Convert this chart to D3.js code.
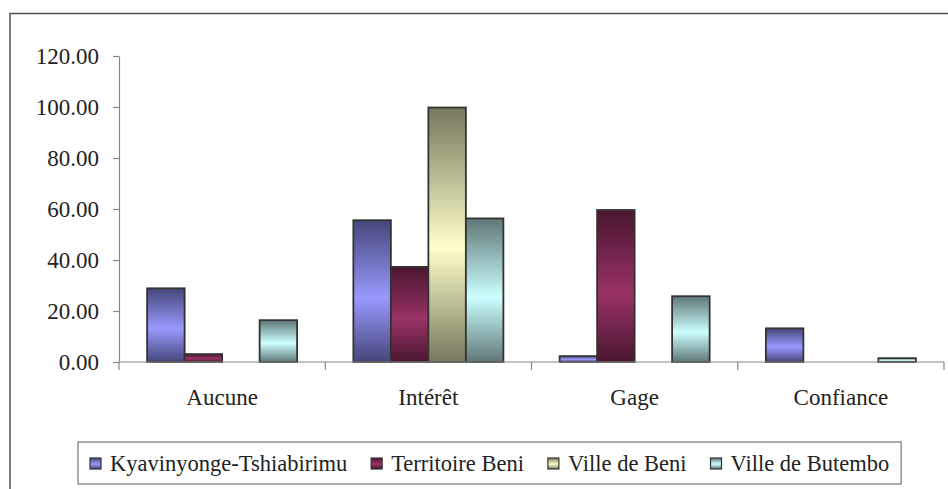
<!DOCTYPE html>
<html>
<head>
<meta charset="utf-8">
<script src="https://cdn.jsdelivr.net/npm/d3@7/dist/d3.min.js"></script>
<style>
  body { margin: 0; background: #fff; }
  svg text { font-family: "Liberation Serif", "Times New Roman", serif; fill: #222; }
</style>
</head>
<body>
<div id="chart"></div>
<script>
// categories on the x axis
var categories = ["Aucune", "Intérêt", "Gage", "Confiance"];

// series (legend order)
var seriesNames = ["Kyavinyonge-Tshiabirimu", "Territoire Beni", "Ville de Beni", "Ville de Butembo"];

// values per series, one per category
var kyavinyonge = [28.9, 55.6, 2.3, 13.2];
var territoireBeni = [3.1, 37.3, 59.6, 0];
var villeDeBeni = [0, 99.8, 0, 0];
var villeDeButembo = [16.4, 56.3, 25.8, 1.5];

var yTicks = [0, 20, 40, 60, 80, 100, 120];

// light / dark colour of each series gradient
var lightColors = ["#9999ff", "#993366", "#ffffcc", "#ccffff"];
var darkColors = ["#46467a", "#4a1630", "#77775c", "#5f7777"];

var values = [kyavinyonge, territoireBeni, villeDeBeni, villeDeButembo];

var W = 948, H = 489;
var margin = {top: 56, left: 119, right: 4, bottom: 127};
var serif = "'Liberation Serif', 'Times New Roman', serif";

var svg = d3.select("#chart").append("svg")
    .attr("width", W)
    .attr("height", H);

// gradients, dark at top and bottom, light in the middle
var defs = svg.append("defs");
seriesNames.forEach(function (s, i) {
  var g = defs.append("linearGradient")
      .attr("id", "grad" + i)
      .attr("x1", 0).attr("y1", 0).attr("x2", 0).attr("y2", 1);
  g.append("stop").attr("offset", "0%").attr("stop-color", darkColors[i]);
  g.append("stop").attr("offset", "55%").attr("stop-color", lightColors[i]);
  g.append("stop").attr("offset", "100%").attr("stop-color", darkColors[i]);
});

// outer chart border (runs off the right and bottom edges)
svg.append("rect")
    .attr("x", 10).attr("y", 13.5)
    .attr("width", 980).attr("height", 520)
    .attr("fill", "none")
    .attr("stroke", "#555")
    .attr("stroke-width", 1.5);

var x0 = d3.scaleBand()
    .domain(categories)
    .range([margin.left, W - margin.right]);

var x1 = d3.scaleBand()
    .domain(seriesNames)
    .range([0, x0.bandwidth()])
    .paddingOuter(0.75);

var y = d3.scaleLinear()
    .domain([0, 120])
    .range([H - margin.bottom, margin.top]);

// y axis
var yAxis = d3.axisLeft(y)
    .tickValues(yTicks)
    .tickSize(6)
    .tickSizeOuter(0)
    .tickPadding(14)
    .tickFormat(d3.format(".2f"));

var yG = svg.append("g")
    .attr("transform", "translate(" + margin.left + ",0)")
    .call(yAxis)
    .attr("font-family", serif)
    .attr("font-size", 23);
yG.selectAll("path, line").attr("stroke", "#888").attr("stroke-width", 1.2);
yG.selectAll("text").attr("fill", "#222");

// bars
var group = svg.selectAll("g.cat")
    .data(categories)
  .enter().append("g")
    .attr("class", "cat")
    .attr("transform", function (c) { return "translate(" + x0(c) + ",0)"; });

group.selectAll("rect")
    .data(function (c, ci) {
      return seriesNames.map(function (s, si) { return {s: s, si: si, v: values[si][ci]}; });
    })
  .enter().append("rect")
    .attr("x", function (d) { return x1(d.s); })
    .attr("width", x1.bandwidth())
    .attr("y", function (d) { return y(d.v); })
    .attr("height", function (d) { return y(0) - y(d.v); })
    .attr("fill", function (d) { return "url(#grad" + d.si + ")"; })
    .attr("stroke", "#333")
    .attr("stroke-width", 1.8);

// x axis line and category boundary ticks
var xG = svg.append("g").attr("class", "x-axis");
xG.append("line")
    .attr("x1", x0.range()[0]).attr("x2", x0.range()[1])
    .attr("y1", y(0)).attr("y2", y(0))
    .attr("stroke", "#888").attr("stroke-width", 1.2);

var bounds = categories.map(function (c) { return x0(c); }).concat([x0.range()[1]]);
xG.selectAll("line.tick")
    .data(bounds)
  .enter().append("line")
    .attr("class", "tick")
    .attr("x1", function (d) { return d; }).attr("x2", function (d) { return d; })
    .attr("y1", y(0)).attr("y2", y(0) + 8)
    .attr("stroke", "#888").attr("stroke-width", 1.2);

xG.selectAll("text")
    .data(categories)
  .enter().append("text")
    .attr("x", function (c) { return x0(c) + x0.bandwidth() / 2; })
    .attr("y", y(0) + 43)
    .attr("text-anchor", "middle")
    .attr("font-family", serif)
    .attr("font-size", 23)
    .text(function (c) { return c; });

// legend
var legend = svg.append("g").attr("class", "legend");
var legBox = legend.append("rect")
    .attr("fill", "#fff")
    .attr("stroke", "#777")
    .attr("stroke-width", 1.2);

var items = legend.selectAll("g.item")
    .data(seriesNames)
  .enter().append("g")
    .attr("class", "item");

items.append("rect")
    .attr("width", 11).attr("height", 11)
    .attr("y", -13)
    .attr("fill", function (d, i) { return "url(#grad" + i + ")"; })
    .attr("stroke", "#333")
    .attr("stroke-width", 1.2);

items.append("text")
    .attr("x", 20)
    .attr("font-family", serif)
    .attr("font-size", 22.5)
    .text(function (d) { return d; });

var itemGap = 24, pad = 12;
var offsets = [], pos = 0;
items.each(function () {
  offsets.push(pos);
  pos += 20 + d3.select(this).select("text").node().getComputedTextLength() + itemGap;
});
var legW = pos - itemGap + pad * 2;
var legLeft = 78, legTop = 442, legH = 42;
legBox.attr("x", legLeft).attr("y", legTop).attr("width", legW).attr("height", legH);
items.attr("transform", function (d, i) {
  return "translate(" + (legLeft + pad + offsets[i]) + "," + (legTop + 29) + ")";
});
</script>
</body>
</html>
